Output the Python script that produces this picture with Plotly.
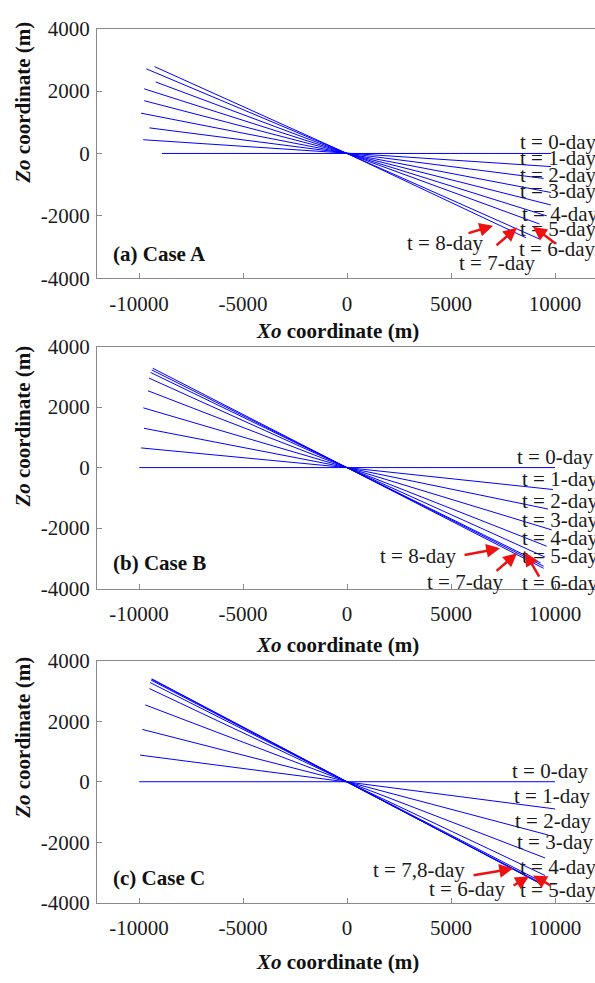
import plotly.graph_objects as go

# ---------------- data ----------------
days = [0, 1, 2, 3, 4, 5, 6, 7, 8]
pivot_x = 0
pivot_z = 0

# Case A: left end / right end of each fracture trace
A_xl = [-8900, -9800, -9500, -9900, -9750, -9750, -9200, -9650, -9250]
A_zl = [0, 440, 820, 1290, 1690, 2070, 2290, 2710, 2780]
A_xr = [9800, 9800, 9450, 9800, 9800, 9600, 9250, 9250, 8600]
A_zr = [0, -420, -800, -1250, -1650, -2000, -2260, -2740, -2700]

# Case B
B_xl = [-9990, -9900, -9760, -9790, -9570, -9520, -9440, -9390, -9340]
B_zl = [0, 650, 1300, 1975, 2540, 2960, 3145, 3230, 3285]
B_xr = [10000, 9900, 9660, 9840, 9600, 9520, 9300, 9450, 9450]
B_zr = [0, -725, -1370, -2060, -2600, -2960, -3150, -3260, -3330]

# Case C
C_xl = [-9990, -9950, -9840, -9700, -9500, -9470, -9420, -9400, -9380]
C_zl = [0, 880, 1730, 2540, 3080, 3280, 3360, 3390, 3400]
C_xr = [10000, 10000, 9660, 9520, 9520, 9420, 9400, 9400, 9400]
C_zr = [0, -900, -1760, -2520, -3100, -3330, -3380, -3400, -3410]

x_ticks = [-10000, -5000, 0, 5000, 10000]
z_ticks = [-4000, -2000, 0, 2000, 4000]
panel_titles = ["(a) Case A", "(b) Case B", "(c) Case C"]

A_labels = ["t = 0-day", "t = 1-day", "t = 2-day", "t = 3-day", "t = 4-day", "t = 5-day", "t = 6-day"]
B_labels = ["t = 0-day", "t = 1-day", "t = 2-day", "t = 3-day", "t = 4-day", "t = 5-day", "t = 6-day"]
C_labels = ["t = 0-day", "t = 1-day", "t = 2-day", "t = 3-day", "t = 4-day", "t = 5-day"]

# ---------------- figure ----------------
W, H = 595, 983
SERIF = "Liberation Serif"
fig = go.Figure()

cases = [(A_xl, A_zl, A_xr, A_zr), (B_xl, B_zl, B_xr, B_zr), (C_xl, C_zl, C_xr, C_zr)]
for k, (xl, zl, xr, zr) in enumerate(cases):
    xa = "x" if k == 0 else f"x{k+1}"
    ya = "y" if k == 0 else f"y{k+1}"
    for i, d in enumerate(days):
        fig.add_trace(go.Scatter(
            x=[xl[i], pivot_x, xr[i]], y=[zl[i], pivot_z, zr[i]],
            mode="lines", line=dict(color="#0000ff", width=1),
            xaxis=xa, yaxis=ya, showlegend=False, hoverinfo="skip"))

# panel pixel geometry (top, bottom)
panels = [(17, 273), (343, 591), (665, 913)]
xdom = [97 / W, 1.0]

axis_common = dict(showline=True, linecolor="#8a8a8a", linewidth=1, ticks="inside",
                   ticklen=5, tickcolor="#8a8a8a", showgrid=False, zeroline=False,
                   tickfont=dict(family=SERIF, size=21, color="#1a1a1a"))
layout = dict(width=W, height=H, margin=dict(l=0, r=0, t=0, b=0),
              paper_bgcolor="white", plot_bgcolor="white", showlegend=False)
for k, (top, bot) in enumerate(panels):
    xs = "xaxis" if k == 0 else f"xaxis{k+1}"
    ys = "yaxis" if k == 0 else f"yaxis{k+1}"
    ya = "y" if k == 0 else f"y{k+1}"
    xa = "x" if k == 0 else f"x{k+1}"
    layout[xs] = dict(axis_common, domain=xdom, range=[-12020, 11920], anchor=ya,
                      tickvals=x_ticks, ticktext=[str(v) for v in x_ticks], mirror=True,
                      ticklabelstandoff=6)
    layout[ys] = dict(axis_common, domain=[1 - bot / H, 1 - top / H], range=[-4000, 4000],
                      anchor=xa, tickvals=z_ticks, ticktext=[str(v) for v in z_ticks],
                      mirror=False, ticklabelstandoff=2)
fig.update_layout(**layout)

ann = []
def px_x(p):
    return p / W
def px_y(p):
    return 1 - p / H

# axis titles and panel titles
xtitle_y = [327, 649, 974]
ytitle_y = [93, 425, 744]
case_y = [248, 565, 888]
for k in range(3):
    ann.append(dict(xref="paper", yref="paper", x=px_x(337), y=px_y(xtitle_y[k]),
                    text="<b><i>Xo</i> coordinate (m)</b>", showarrow=False,
                    xanchor="center", yanchor="middle",
                    font=dict(family=SERIF, size=21, color="#111")))
    ann.append(dict(xref="paper", yref="paper", x=px_x(23), y=px_y(ytitle_y[k]),
                    text="<b><i>Zo</i> coordinate (m)</b>", showarrow=False, textangle=-90,
                    xanchor="center", yanchor="middle",
                    font=dict(family=SERIF, size=21, color="#111")))
    ann.append(dict(xref="paper", yref="paper", x=px_x(111), y=px_y(case_y[k]),
                    text=f"<b>{panel_titles[k]}</b>", showarrow=False,
                    xanchor="left", yanchor="middle",
                    font=dict(family=SERIF, size=21, color="#111")))

lab_font = dict(family=SERIF, size=21, color="#1a1a1a")

# Case A labels (data coords of axis x/y)
A_pos = [(8221, 375), (8221, -156), (8221, -690), (8221, -1190), (8317, -1940), (8221, -2410), (8173, -3060)]
for t, (x, y) in zip(A_labels, A_pos):
    ann.append(dict(xref="x", yref="y", x=x, y=y, text=t, showarrow=False,
                    xanchor="left", yanchor="middle", font=lab_font))
ann.append(dict(xref="x", yref="y", x=4712, y=-2875, text="t = 8-day", showarrow=False, font=lab_font))
ann.append(dict(xref="x", yref="y", x=7212, y=-3500, text="t = 7-day", showarrow=False, font=lab_font))

B_pos = [(8077, 358), (8317, -390), (8317, -1106), (8317, -1724), (8317, -2341), (8317, -2927), (8317, -3805)]
for t, (x, y) in zip(B_labels, B_pos):
    ann.append(dict(xref="x2", yref="y2", x=x, y=y, text=t, showarrow=False,
                    xanchor="left", yanchor="middle", font=lab_font))
ann.append(dict(xref="x2", yref="y2", x=3413, y=-2927, text="t = 8-day", showarrow=False, font=lab_font))
ann.append(dict(xref="x2", yref="y2", x=5673, y=-3772, text="t = 7-day", showarrow=False, font=lab_font))

C_pos = [(7837, 355), (7933, -484), (7981, -1290), (8077, -2000), (8221, -2806), (8221, -3581)]
for t, (x, y) in zip(C_labels, C_pos):
    ann.append(dict(xref="x3", yref="y3", x=x, y=y, text=t, showarrow=False,
                    xanchor="left", yanchor="middle", font=lab_font))
ann.append(dict(xref="x3", yref="y3", x=3462, y=-2903, text="t = 7,8-day", showarrow=False, font=lab_font))
ann.append(dict(xref="x3", yref="y3", x=5769, y=-3548, text="t = 6-day", showarrow=False, font=lab_font))

# red arrows: (axis, head x, head y, tail dx px, tail dy px)
arrows = [
    ("", 7019, -2312, -26, 8), ("", 8173, -2375, -22, 19), ("", 8942, -2344, 24, 18),
    ("2", 7356, -2667, -37, 7), ("2", 8173, -2829, -22, 19), ("2", 8558, -2797, 15, 26),
    ("3", 7981, -2871, -41, 7), ("3", 8750, -3129, -17, 10), ("3", 8942, -3097, 19, 11),
]
for s, hx, hy, dx, dy in arrows:
    ann.append(dict(xref="x" + s, yref="y" + s, x=hx, y=hy, ax=dx, ay=dy, text="",
                    showarrow=True, arrowhead=2, arrowsize=1.1, arrowwidth=2.5,
                    arrowcolor="#ee1111"))

fig.update_layout(annotations=ann)
fig.write_html("out.html")
